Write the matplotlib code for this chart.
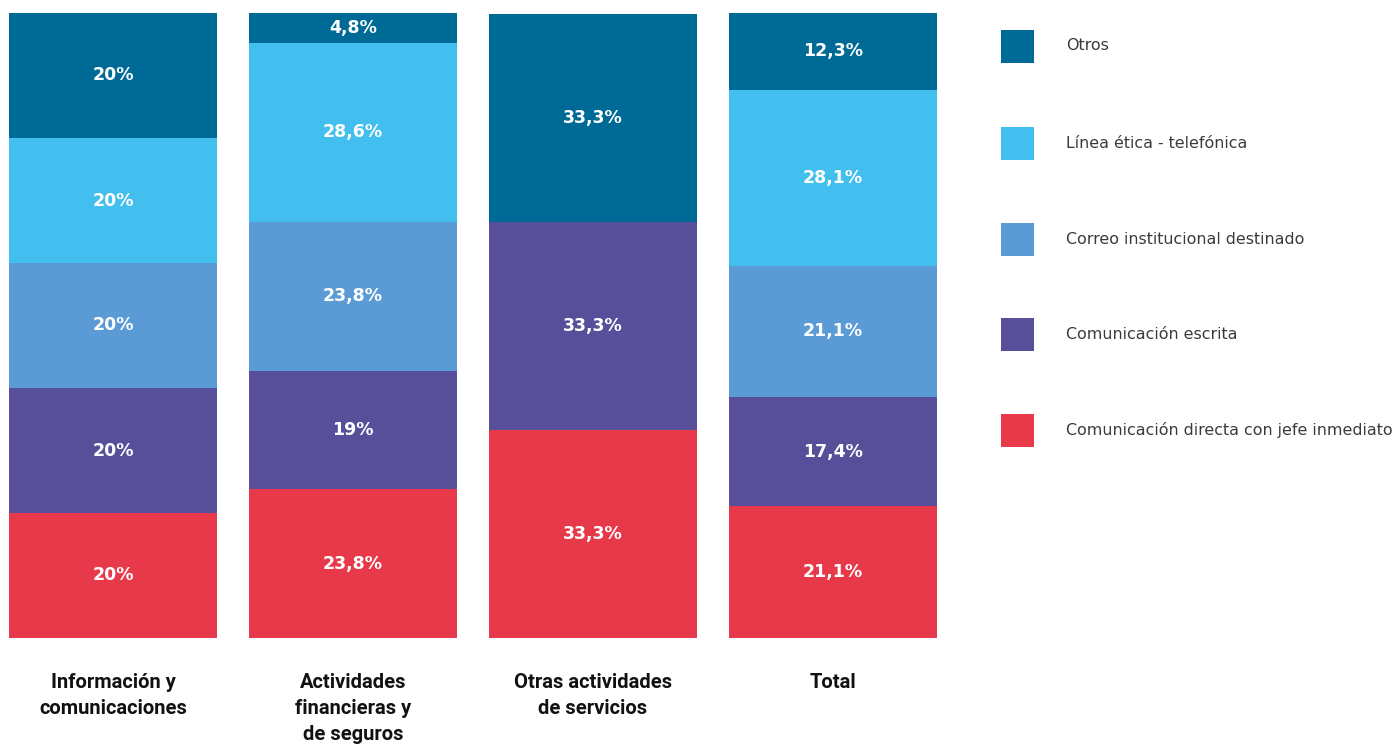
import matplotlib.pyplot as plt
import numpy as np
from matplotlib.patches import Rectangle

categorias = ["Información y\ncomunicaciones",
              "Actividades\nfinancieras y\nde seguros",
              "Otras actividades\nde servicios",
              "Total"]

# series de abajo hacia arriba
series = ["Comunicación directa con jefe inmediato",
          "Comunicación escrita",
          "Correo institucional destinado",
          "Línea ética - telefónica",
          "Otros"]
directa = [20, 23.8, 33.3, 21.1]
escrita = [20, 19, 33.3, 17.4]
correo = [20, 23.8, 0, 21.1]
linea = [20, 28.6, 0, 28.1]
otros = [20, 4.8, 33.3, 12.3]
etiquetas = [
    ["20%", "23,8%", "33,3%", "21,1%"],
    ["20%", "19%", "33,3%", "17,4%"],
    ["20%", "23,8%", "", "21,1%"],
    ["20%", "28,6%", "", "28,1%"],
    ["20%", "4,8%", "33,3%", "12,3%"],
]
colores = ["#E8394A", "#574F99", "#5B9BD5", "#42BFEE", "#006A96"]

W, H = 1396, 744
fig = plt.figure(figsize=(W / 100, H / 100), dpi=100)
ax = fig.add_axes([0, (H - 638) / H, 960 / W, 625 / H])

x = np.arange(len(categorias))
valores = [directa, escrita, correo, linea, otros]
base = np.zeros(len(categorias))
for vals, col, labs in zip(valores, colores, etiquetas):
    vals = np.array(vals, dtype=float)
    ax.bar(x, vals, width=208 / 240, bottom=base, color=col, linewidth=0)
    for xi, b, v, t in zip(x, base, vals, labs):
        if v > 0 and t:
            ax.text(xi, b + v / 2, t, ha="center", va="center",
                    color="white", fontsize=12.5, fontweight="bold",
                    family="DejaVu Sans")
    base += vals

ax.set_xlim(-113 / 240, 847 / 240)
ax.set_ylim(0, 100)
ax.axis("off")

for xi, cat in zip(x, categorias):
    ax.text(xi, -5.6, cat, ha="center", va="top", fontsize=14.5,
            fontweight="bold", family="Roboto", color="#111111",
            linespacing=1.45)

# leyenda a la derecha
centros = [46, 143, 239, 334, 430]
for yc, nombre, col in zip(centros, series[::-1], colores[::-1]):
    fig.patches.append(Rectangle((1001 / W, (H - yc - 16.5) / H), 33 / W, 33 / H,
                                 transform=fig.transFigure, color=col,
                                 linewidth=0))
    fig.text(1066 / W, (H - yc) / H, nombre, ha="left", va="center",
             fontsize=11.4, color="#3a3a3a", family="DejaVu Sans")

fig.savefig("out.png", dpi=100)
